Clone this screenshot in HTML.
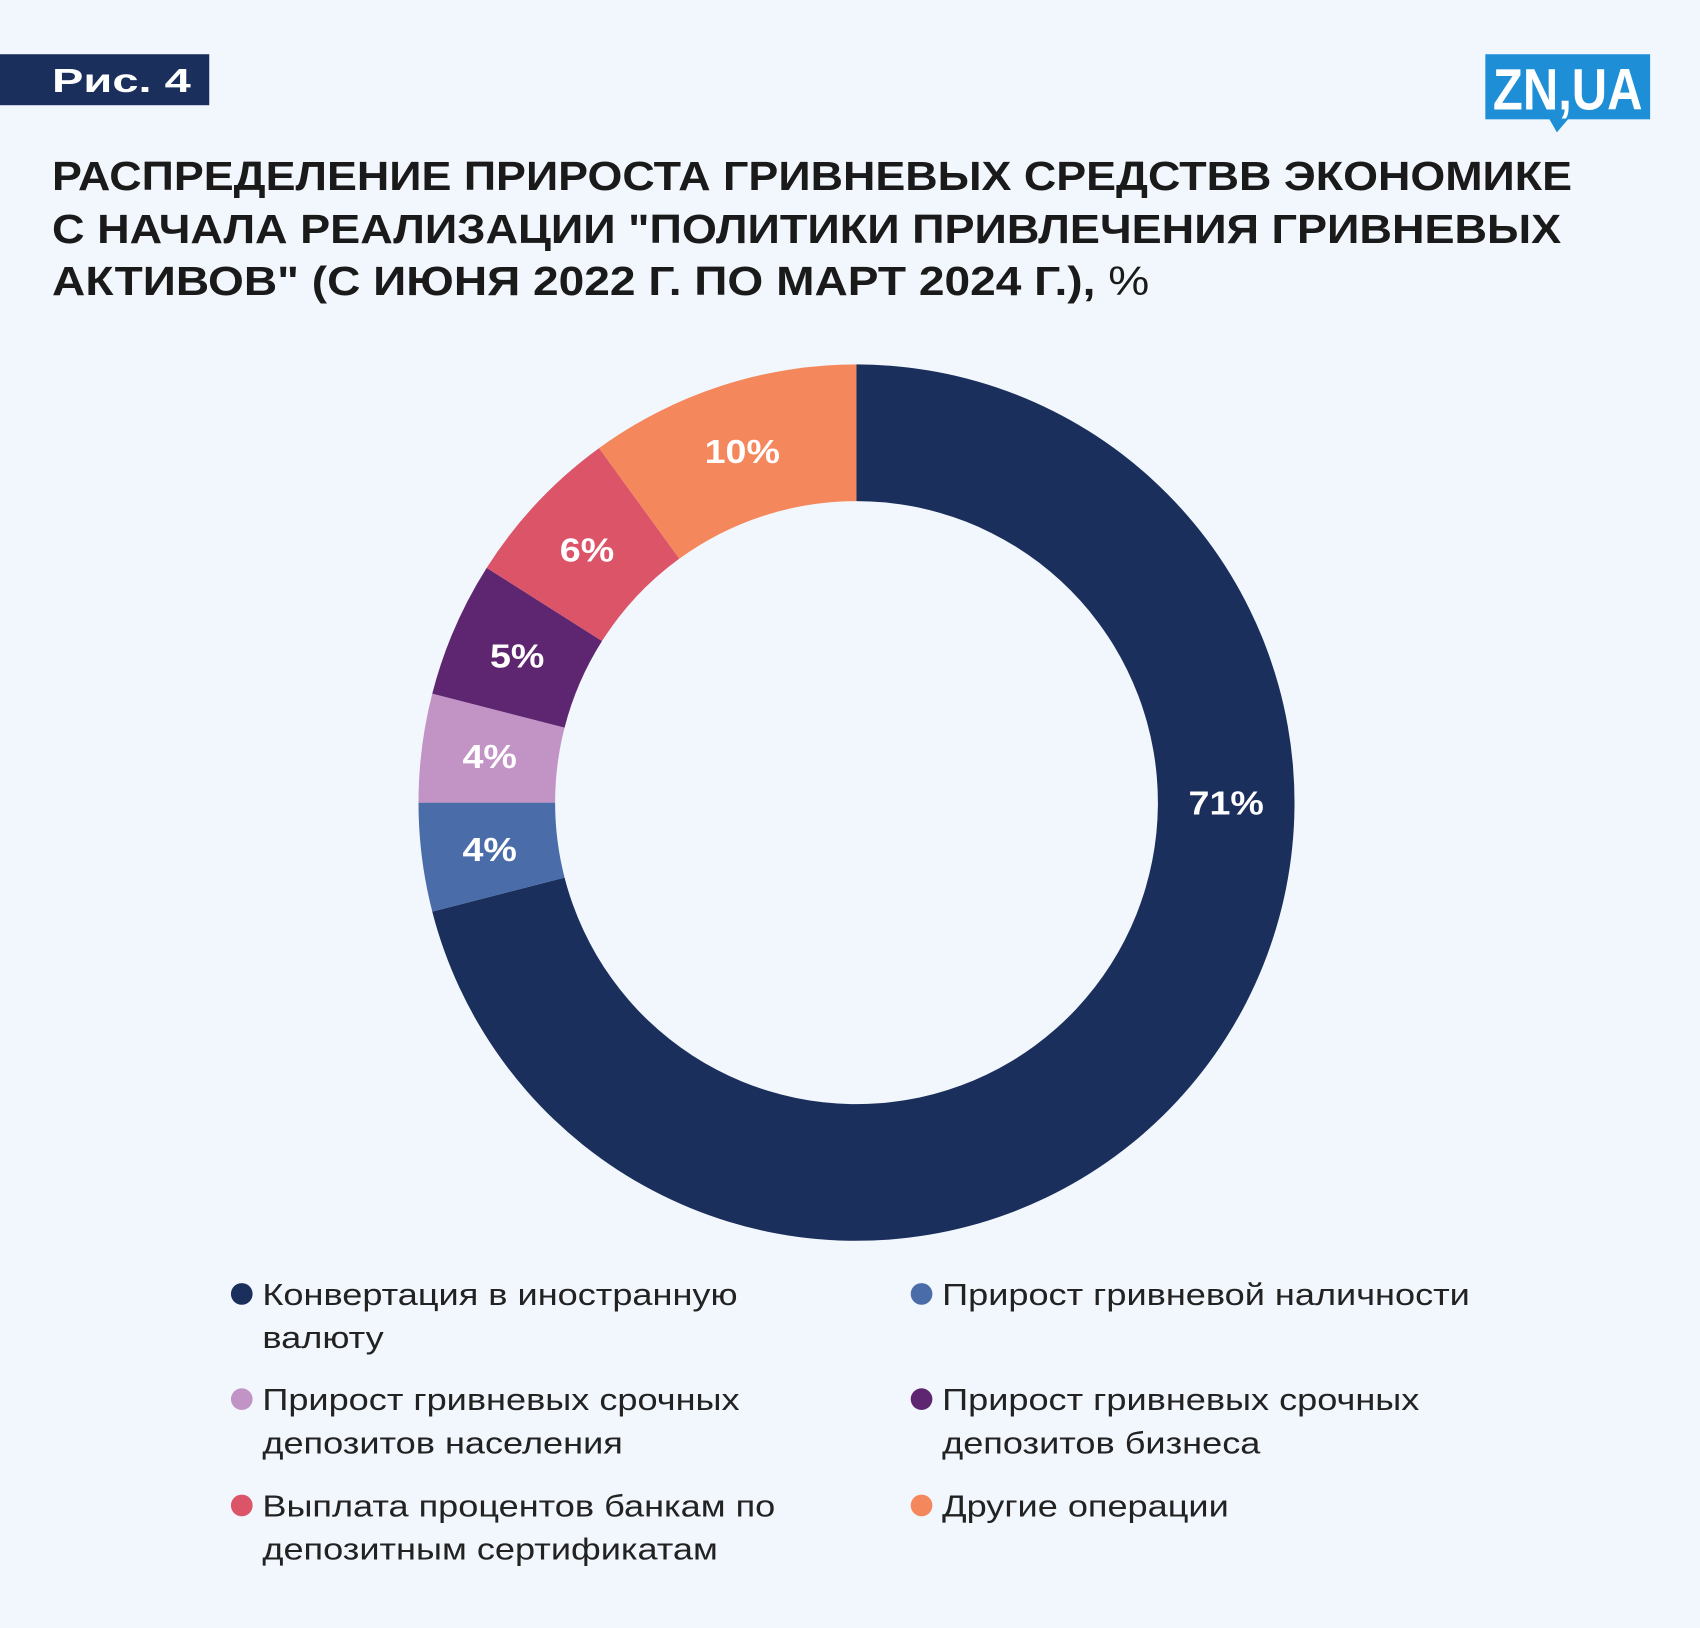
<!DOCTYPE html>
<html><head><meta charset="utf-8"><style>
html,body{margin:0;padding:0;background:#f2f7fd;}
svg{display:block;font-family:"Liberation Sans","Noto Sans CJK SC",sans-serif;}
</style></head><body>
<svg id="chart" width="1700" height="1628" viewBox="0 0 1568 1501" preserveAspectRatio="none" xmlns="http://www.w3.org/2000/svg">
<rect x="0" y="0" width="1568" height="1501" fill="#f2f7fd"/>
<g>
<rect x="0" y="50" width="193" height="47" fill="#1b2f5c"/>
<text x="48" y="85" fill="#fff" font-size="31" font-weight="bold" textLength="128" lengthAdjust="spacingAndGlyphs">Рис. 4</text>
</g>
<g>
<rect x="1370" y="50" width="152" height="60" fill="#1e8fd6"/>
<polygon points="1428,108 1448,108 1436,122" fill="#1e8fd6"/>
<text x="1377" y="101" fill="#fff" font-size="54" font-weight="bold" textLength="138" lengthAdjust="spacingAndGlyphs">ZN,UA</text>
</g>
<g fill="#1a1a1a" font-size="38" font-weight="bold">
<text x="48" y="175" textLength="1402" lengthAdjust="spacingAndGlyphs">РАСПРЕДЕЛЕНИЕ ПРИРОСТА ГРИВНЕВЫХ СРЕДСТВВ ЭКОНОМИКЕ</text>
<text x="48" y="224" textLength="1392" lengthAdjust="spacingAndGlyphs">С НАЧАЛА РЕАЛИЗАЦИИ "ПОЛИТИКИ ПРИВЛЕЧЕНИЯ ГРИВНЕВЫХ</text>
<text x="48" y="272" textLength="1012" lengthAdjust="spacingAndGlyphs">АКТИВОВ" (С ИЮНЯ 2022 Г. ПО МАРТ 2024 Г.), <tspan font-weight="normal">%</tspan></text>
</g>
<g id="slices"></g>
<g id="labels"></g>
<g id="legend"></g>
</svg>
<script>
const categories = ["Конвертация в иностранную валюту","Прирост гривневой наличности","Прирост гривневых срочных депозитов населения","Прирост гривневых срочных депозитов бизнеса","Выплата процентов банкам по депозитным сертификатам","Другие операции"];
const values = [71,4,4,5,6,10];
const labelsTxt = ["71%","4%","4%","5%","6%","10%"];
const colors = ["#1b2f5c","#4a6ca8","#c293c5","#5e2670","#dc5468","#f5875c"];
const legendLines = [["Конвертация в иностранную","валюту"],["Прирост гривневой наличности"],["Прирост гривневых срочных","депозитов населения"],["Прирост гривневых срочных","депозитов  бизнеса"],["Выплата процентов банкам по","депозитным сертификатам"],["Другие операции"]];

const NS="http://www.w3.org/2000/svg";
const cx=790, cy=740, R=404, r=278;
const total=values.reduce((a,b)=>a+b,0);
function pt(rad,ang){return [cx+rad*Math.sin(ang), cy-rad*Math.cos(ang)];}
const sg=document.getElementById('slices'), lg=document.getElementById('labels');
let a0=0;
values.forEach((v,i)=>{
  const a1=a0+v/total*2*Math.PI;
  const large=(a1-a0)>Math.PI?1:0;
  const p1=pt(R,a0),p2=pt(R,a1),p3=pt(r,a1),p4=pt(r,a0);
  const p=document.createElementNS(NS,'path');
  p.setAttribute('d',`M${p1[0]},${p1[1]} A${R},${R} 0 ${large} 1 ${p2[0]},${p2[1]} L${p3[0]},${p3[1]} A${r},${r} 0 ${large} 0 ${p4[0]},${p4[1]} Z`);
  p.setAttribute('fill',colors[i]);
  
  
  sg.appendChild(p);
  let am=(a0+a1)/2;
  if(v/total>0.5) am=Math.PI/2;
  const lp=pt((R+r)/2,am);
  const t=document.createElementNS(NS,'text');
  t.setAttribute('x',lp[0]);t.setAttribute('y',lp[1]+11);
  t.setAttribute('text-anchor','middle');t.setAttribute('fill','#fff');
  t.setAttribute('font-size','31');t.setAttribute('font-weight','bold');
  t.textContent=labelsTxt[i];
  
  
  lg.appendChild(t);
  const w=t.getComputedTextLength();
  t.setAttribute('textLength',w*1.12);
  t.setAttribute('lengthAdjust','spacingAndGlyphs');
  a0=a1;
});
const leg=document.getElementById('legend');
const colX=[223,850], rowY=[1193,1290,1388];
legendLines.forEach((lines,i)=>{
  const x=colX[i%2], y=rowY[Math.floor(i/2)];
  const g=document.createElementNS(NS,'g');
  
  
  const c=document.createElementNS(NS,'circle');
  c.setAttribute('cx',x);c.setAttribute('cy',y);c.setAttribute('r',10);c.setAttribute('fill',colors[i]);
  g.appendChild(c);
  leg.appendChild(g);
  lines.forEach((ln,j)=>{
    const t=document.createElementNS(NS,'text');
    t.setAttribute('x',x+19);t.setAttribute('y',y+10+j*40);
    t.setAttribute('font-size','28');t.setAttribute('fill','#222');
    t.textContent=ln;
    g.appendChild(t);
    const w=t.getComputedTextLength();
    t.setAttribute('textLength',w*1.19);
    t.setAttribute('lengthAdjust','spacingAndGlyphs');
  });
});
</script>
</body></html>
